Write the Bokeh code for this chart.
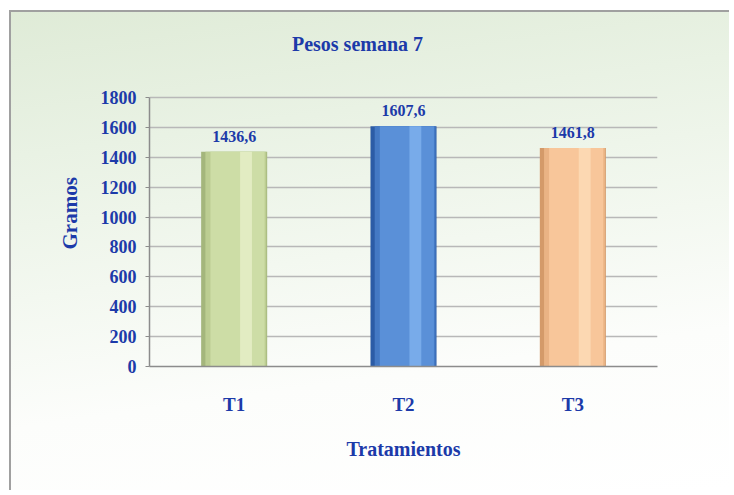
from bokeh.plotting import figure
from bokeh.models import ColumnDataSource, LabelSet, FactorRange, Range1d, FixedTicker, Label, Title
from bokeh.transform import dodge
from bokeh.embed import file_html
from bokeh.resources import INLINE

categories = ["T1", "T2", "T3"]
values = [1436.6, 1607.6, 1461.8]
value_labels = ["1436,6", "1607,6", "1461,8"]
y_ticks = [0, 200, 400, 600, 800, 1000, 1200, 1400, 1600, 1800]

edge_colors = ["#a4b67c", "#2c5ca6", "#d49a69"]
mid_colors = ["#bccd92", "#4479c4", "#eab384"]
main_colors = ["#cddda6", "#5a90d8", "#f8c69a"]
light_colors = ["#e2ecc2", "#78abea", "#fcd8b2"]

TEXT = "#1c3aa9"
FONT = "Liberation Serif"

source = ColumnDataSource(dict(x=categories, top=values, label=value_labels,
                               edge=edge_colors, mid=mid_colors, main=main_colors,
                               light=light_colors))

W, H = 720, 480
Y_MAX = 1800
# extra headroom in the frame so the title (drawn as a label) stays inside it
Y_END = 2302
p = figure(width=W, height=H, x_range=FactorRange(*categories, range_padding=0),
           y_range=Range1d(0, Y_END), output_backend="svg", toolbar_location=None,
           min_border_left=138, min_border_right=74, min_border_top=10, min_border_bottom=126)

p.border_fill_alpha = 0
p.background_fill_alpha = 0
p.outline_line_color = None
p.styles = {
    "margin-left": "9px", "margin-top": "10px",
    "border-left": "2px solid #a0a0a0", "border-top": "2px solid #a0a0a0",
    "background": "linear-gradient(172deg, #dfebd7 0%, #e9f2e4 25%, #f3f8f0 50%, #fcfdfb 72%, #ffffff 100%)",
}

xr = p.x_range
p.vbar(x="x", top="top", width=0.39, source=source, fill_color="edge", line_color=None)
p.vbar(x=dodge("x", 0.01, range=xr), top="top", width=0.36, source=source,
       fill_color="mid", line_color=None)
p.vbar(x=dodge("x", 0.02, range=xr), top="top", width=0.32, source=source,
       fill_color="main", line_color=None)
p.vbar(x=dodge("x", 0.07, range=xr), top="top", width=0.07, source=source,
       fill_color="light", line_color=None)

labels = LabelSet(x="x", y="top", text="label", source=source, y_offset=10,
                  text_align="center", text_baseline="bottom", text_color=TEXT,
                  text_font=FONT, text_font_style="bold", text_font_size="16px")
p.add_layout(labels)

title = Label(x=1.5, y=Y_MAX, x_offset=-46, y_offset=54, text="Pesos semana 7",
              text_align="center", text_baseline="middle", text_color=TEXT,
              text_font=FONT, text_font_style="bold", text_font_size="20px")
p.add_layout(title)

ylabel = Title(text="Gramos", align="left", offset=117, standoff=32, text_color=TEXT,
               text_font=FONT, text_font_style="bold", text_font_size="21px")
p.add_layout(ylabel, "left")

p.yaxis.ticker = FixedTicker(ticks=y_ticks)
p.yaxis.bounds = (0, Y_MAX)
p.xaxis.axis_label = "Tratamientos"
for ax in (p.xaxis, p.yaxis):
    ax.axis_label_text_font = FONT
    ax.axis_label_text_font_style = "bold"
    ax.axis_label_text_font_size = "20px"
    ax.axis_label_text_color = TEXT
    ax.major_label_text_font = FONT
    ax.major_label_text_font_style = "bold"
    ax.major_label_text_color = TEXT
    ax.axis_line_color = "#8c8c8c"
    ax.axis_line_width = 1.5
    ax.minor_tick_line_color = None

p.yaxis.major_label_text_font_size = "18px"
p.yaxis.major_tick_in = 0
p.yaxis.major_tick_out = 4
p.yaxis.major_tick_line_color = "#8c8c8c"
p.yaxis.major_label_standoff = 9

p.xaxis.major_label_text_font_size = "19px"
p.xaxis.major_tick_line_color = None
p.xaxis.major_label_standoff = 21
p.xaxis.axis_label_standoff = 20

p.xgrid.grid_line_color = None
p.ygrid.grid_line_color = "#b8b8b8"
p.ygrid.grid_line_width = 1.5

open("out.html", "w").write(file_html(p, INLINE))
